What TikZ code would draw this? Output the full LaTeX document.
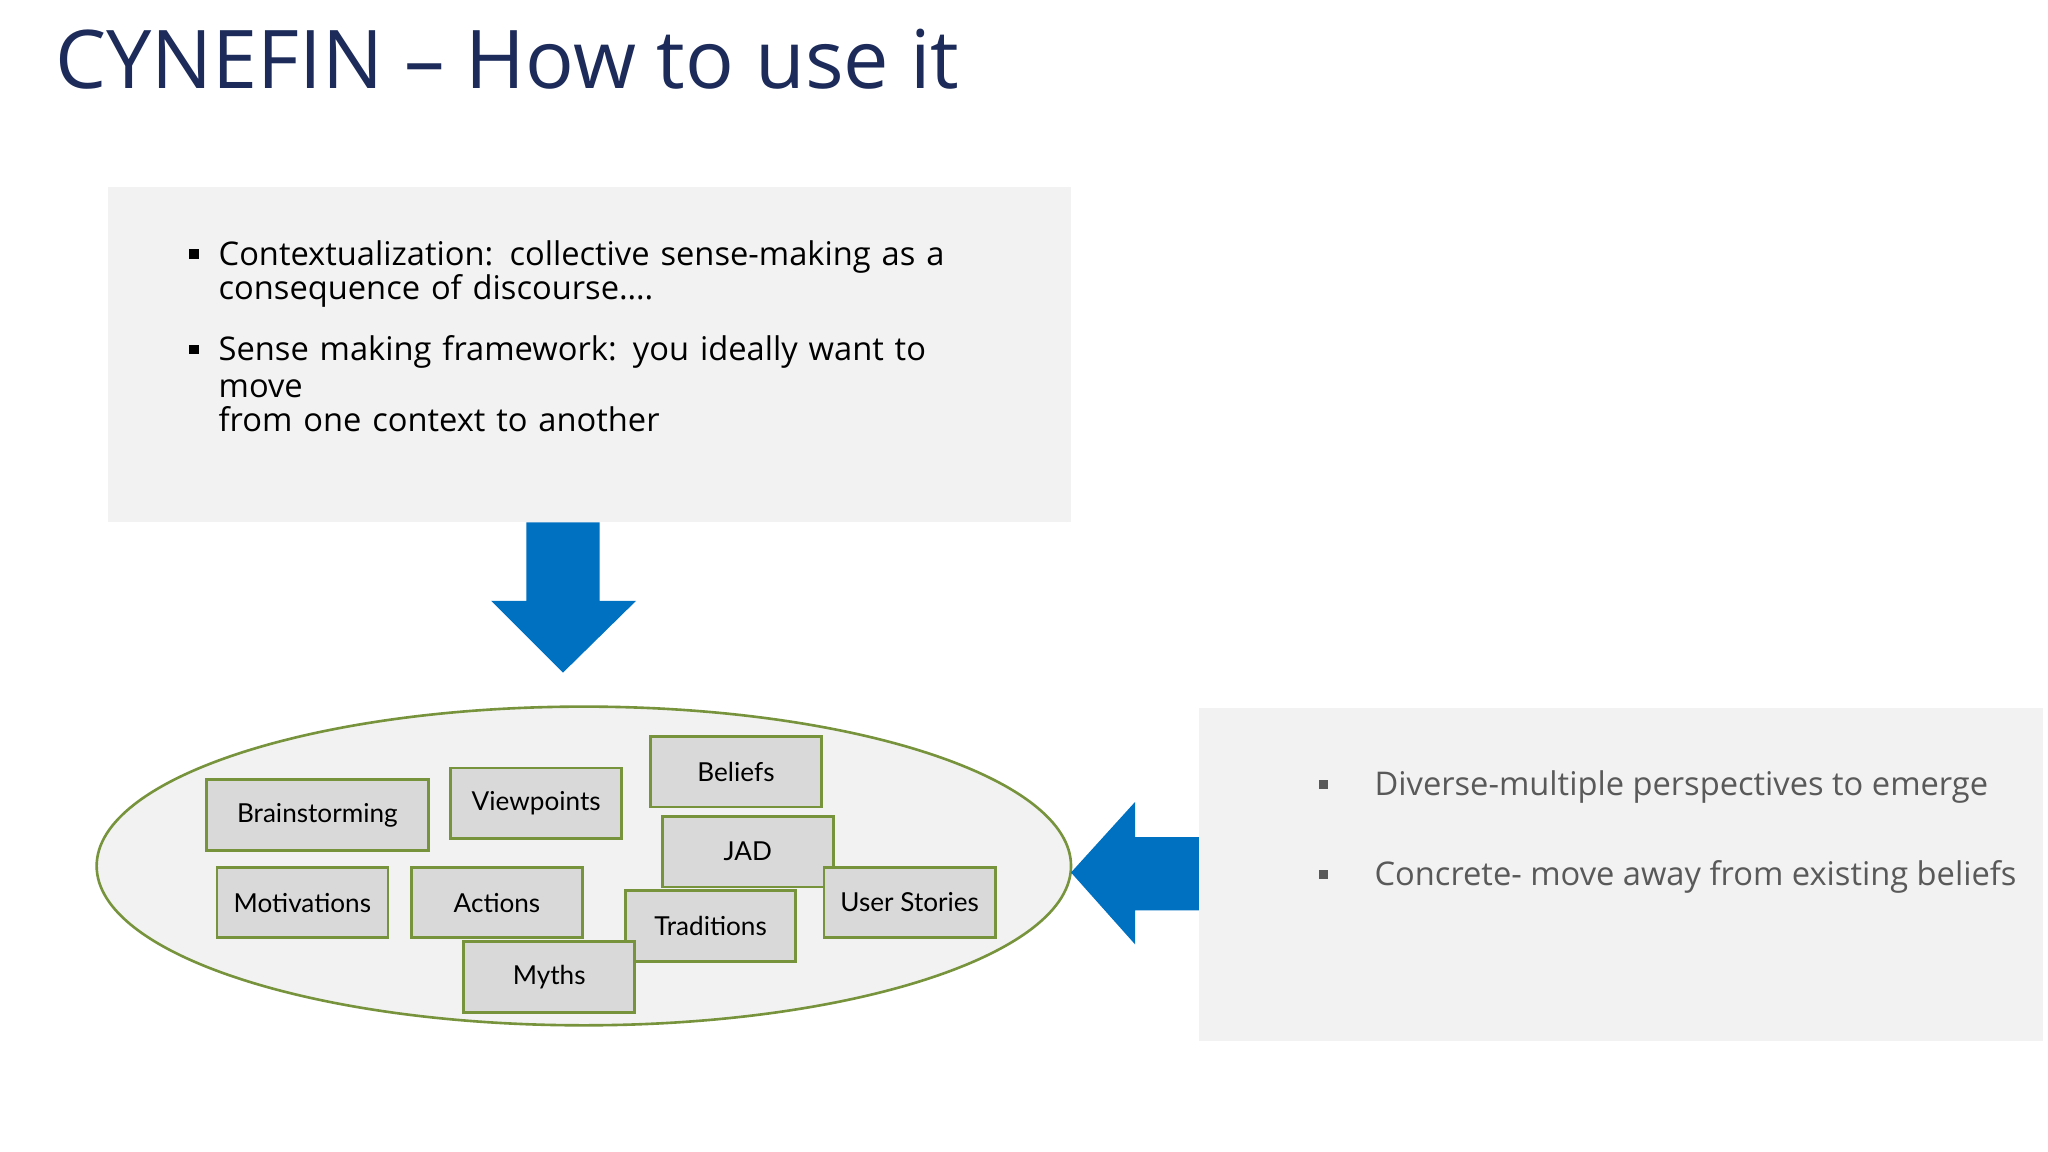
\documentclass[tikz,border=0pt]{standalone}
\usepackage{fontspec}
\setmainfont{Open Sans}
\newfontfamily\lab{Lato}
\usetikzlibrary{shapes.geometric}
\definecolor{navy}{HTML}{1C2B5A}
\definecolor{panel}{HTML}{F2F2F2}
\definecolor{blu}{HTML}{0070C0}
\definecolor{grn}{HTML}{77933C}
\definecolor{tag}{HTML}{D9D9D9}
\definecolor{txt}{HTML}{595959}
\begin{document}
\begin{tikzpicture}[x=0.5pt,y=-0.5pt,
  tagbox/.style={draw=grn,line width=1pt,fill=tag,font=\lab\fontsize{10}{12}\selectfont},
  bul/.style={anchor=base west,font=\fontsize{12.5}{14}\selectfont,align=left,inner sep=0pt}]
\useasboundingbox[fill=white] (0,0) rectangle (1568,882);
\node[anchor=base west,inner sep=0pt,text=navy,font=\fontsize{31}{36}\selectfont] (title) at (42,68) {CYNEFIN – How to use it};
% top panel
\fill[panel] (83,143) rectangle (820,400);
\node[bul,text width=290pt] (b1) at (167,203) {Contextualization: collective sense-making as a\\[-1pt]consequence of discourse….};
\node[bul,text width=300pt] (b2) at (167,276) {Sense making framework: you ideally want to move\\[-1pt]from one context to another};
\fill (145,198) rectangle +(7,-7);
\fill (145,271) rectangle +(7,-7);
% down arrow
\fill[blu] (403,400) -- (459,400) -- (459,460) -- (487,460) -- (431,515) -- (376,460) -- (403,460) -- cycle;
% ellipse
\node[ellipse,draw=grn,line width=1pt,fill=panel,minimum width=373pt,minimum height=122pt] (ell) at (447,663) {};
\newcommand\tagnode[6]{\node[tagbox,minimum width=#4*0.5pt-1pt,minimum height=#5*0.5pt-1pt,anchor=north west] (#6) at (#2,#3) {#1};}
\tagnode{Brainstorming}{157}{596}{172}{56}{t1}
\tagnode{Viewpoints}{344}{587}{133}{56}{t2}
\tagnode{Beliefs}{497}{563}{133}{56}{t3}
\tagnode{JAD}{506}{624}{133}{56}{t4}
\tagnode{Motivations}{165}{663}{133}{56}{t5}
\tagnode{Actions}{314}{663}{133}{56}{t6}
\tagnode{Traditions}{478}{681}{132}{56}{t7}
\tagnode{User Stories}{630}{663}{133}{56}{t8}
\tagnode{Myths}{354}{720}{133}{56}{t9}
% left arrow
\fill[blu] (918,641) -- (869,641) -- (869,614) -- (820,668) -- (869,723) -- (869,697) -- (918,697) -- cycle;
% right panel
\fill[panel] (918,542) rectangle (1564,797);
\node[bul,text=txt] (r1) at (1052,609) {Diverse-multiple perspectives to emerge};
\node[bul,text=txt] (r2) at (1052,678) {Concrete- move away from existing beliefs};
\fill[txt] (1010,604) rectangle +(7,-7);
\fill[txt] (1010,673) rectangle +(7,-7);
\end{tikzpicture}
\end{document}
